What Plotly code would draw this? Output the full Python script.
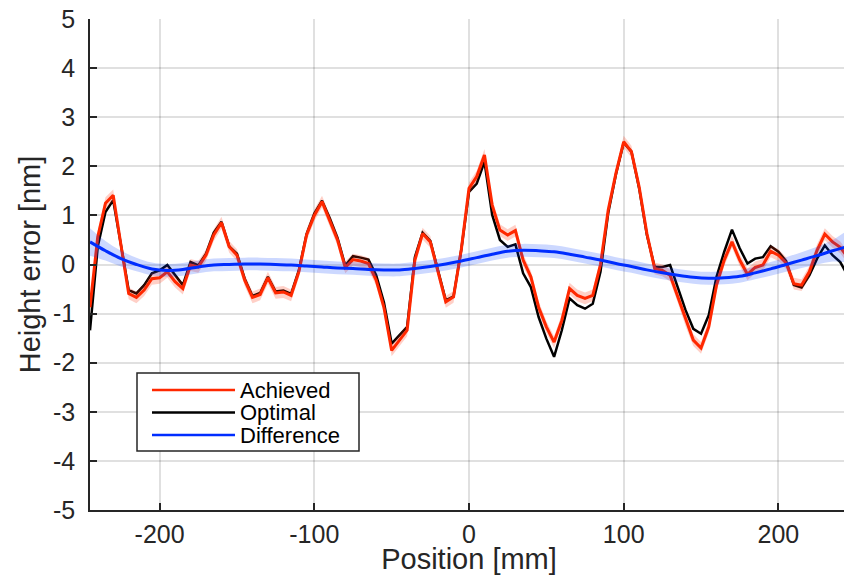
import numpy as np
import plotly.graph_objects as go

# ---- data ----
positions = list(range(-245, 250, 5))
achieved = [-0.87, 0.56, 1.25, 1.41, 0.40, -0.59, -0.67, -0.52, -0.29, -0.27,
            -0.15, -0.35, -0.49, -0.01, -0.05, 0.19, 0.60, 0.85, 0.36, 0.19,
            -0.32, -0.67, -0.61, -0.27, -0.58, -0.56, -0.63, -0.15, 0.60, 1.00,
            1.28, 0.90, 0.50, -0.06, 0.10, 0.07, 0.02, -0.32, -0.87, -1.75,
            -1.54, -1.34, 0.09, 0.63, 0.46, -0.15, -0.76, -0.66, 0.30, 1.55,
            1.79, 2.23, 1.21, 0.70, 0.60, 0.69, 0.09, -0.25, -0.87, -1.27,
            -1.58, -1.14, -0.49, -0.63, -0.69, -0.63, 0.00, 1.11, 1.86, 2.50,
            2.30, 1.58, 0.63, -0.08, -0.12, -0.22, -0.66, -1.14, -1.54, -1.70,
            -1.27, -0.42, 0.09, 0.46, 0.09, -0.20, -0.06, -0.01, 0.27, 0.19,
            0.03, -0.39, -0.42, -0.15, 0.29, 0.62, 0.46, 0.35, 0.14]
optimal = [-1.34, 0.36, 1.07, 1.31, 0.40, -0.52, -0.59, -0.42, -0.18, -0.12,
           -0.01, -0.22, -0.42, 0.05, -0.02, 0.22, 0.65, 0.87, 0.37, 0.22,
           -0.29, -0.64, -0.58, -0.25, -0.55, -0.53, -0.60, -0.12, 0.62, 1.04,
           1.30, 0.94, 0.54, -0.02, 0.17, 0.14, 0.10, -0.22, -0.77, -1.61,
           -1.44, -1.27, 0.15, 0.65, 0.48, -0.12, -0.73, -0.65, 0.30, 1.48,
           1.65, 2.09, 1.01, 0.50, 0.36, 0.41, -0.18, -0.46, -1.07, -1.51,
           -1.88, -1.34, -0.69, -0.83, -0.90, -0.80, -0.15, 1.05, 1.84, 2.48,
           2.30, 1.55, 0.60, -0.05, -0.05, -0.01, -0.46, -0.93, -1.31, -1.41,
           -1.03, -0.25, 0.26, 0.71, 0.33, 0.02, 0.12, 0.15, 0.37, 0.26,
           0.07, -0.42, -0.47, -0.22, 0.12, 0.39, 0.19, 0.05, -0.24]
achieved_unc = 0.12

diff_positions = list(range(-245, 250, 10))
difference = [0.46, 0.28, 0.12, 0.00, -0.09, -0.12, -0.10, -0.05, -0.01, 0.00,
              0.01, 0.01, 0.00, -0.01, -0.03, -0.05, -0.07, -0.08, -0.10, -0.11,
              -0.11, -0.08, -0.04, 0.01, 0.07, 0.14, 0.21, 0.27, 0.29, 0.28,
              0.26, 0.21, 0.15, 0.09, 0.02, -0.04, -0.11, -0.17, -0.22, -0.26,
              -0.28, -0.27, -0.24, -0.17, -0.09, 0.00, 0.09, 0.18, 0.28, 0.37]
difference_unc = [0.28, 0.20, 0.16, 0.14, 0.13, 0.13, 0.13, 0.13, 0.13, 0.13,
                  0.13, 0.13, 0.13, 0.13, 0.13, 0.13, 0.13, 0.13, 0.13, 0.13,
                  0.13, 0.13, 0.13, 0.13, 0.13, 0.13, 0.13, 0.13, 0.13, 0.13,
                  0.13, 0.13, 0.13, 0.13, 0.13, 0.13, 0.13, 0.13, 0.13, 0.13,
                  0.13, 0.13, 0.13, 0.13, 0.14, 0.15, 0.16, 0.18, 0.22, 0.29]

series_names = ["Achieved", "Optimal", "Difference"]

x_ticks = [-200, -100, 0, 100, 200]
x_tick_labels = ["-200", "-100", "0", "100", "200"]
y_ticks = [-5, -4, -3, -2, -1, 0, 1, 2, 3, 4, 5]
y_tick_labels = ["-5", "-4", "-3", "-2", "-1", "0", "1", "2", "3", "4", "5"]

FONT = "Liberation Sans, Arial, Helvetica, sans-serif"
RED = "rgb(255,40,0)"
BLUE = "rgb(0,45,255)"
DARK = "#262626"

# page body has an 8px margin; lay out the figure to compensate
OFF = 8
W, H = 852 - OFF, 575 - OFF
ML, MR, MT, MB = 90 - OFF, 4, 19 - OFF, 65
PW, PH = W - ML - MR, H - MT - MB


def px_to_paper(sx, sy):
    """screen pixel -> paper coordinates"""
    fx, fy = sx - OFF, sy - OFF
    return (fx - ML) / PW, (H - MB - fy) / PH


def band(xs, ys, unc):
    xs = np.asarray(xs, float)
    ys = np.asarray(ys, float)
    u = np.broadcast_to(np.asarray(unc, float), ys.shape)
    return (np.concatenate([xs, xs[::-1]]),
            np.concatenate([ys + u, (ys - u)[::-1]]))


fig = go.Figure()

fig.add_trace(go.Scatter(x=positions, y=optimal, mode="lines",
                         name=series_names[1], showlegend=False,
                         line=dict(color="black", width=2.5)))

bx, by = band(positions, achieved, achieved_unc)
fig.add_trace(go.Scatter(x=bx, y=by, fill="toself", mode="lines",
                         line=dict(width=0), fillcolor="rgba(255,40,0,0.22)",
                         showlegend=False, hoverinfo="skip"))
fig.add_trace(go.Scatter(x=positions, y=achieved, mode="lines",
                         name=series_names[0], showlegend=False,
                         line=dict(color=RED, width=3)))

dx, dy = band(diff_positions, difference, difference_unc)
fig.add_trace(go.Scatter(x=dx, y=dy, fill="toself", mode="lines",
                         line=dict(width=0, shape="spline"),
                         fillcolor="rgba(0,60,255,0.2)",
                         showlegend=False, hoverinfo="skip"))
fig.add_trace(go.Scatter(x=diff_positions, y=difference, mode="lines",
                         name=series_names[2], showlegend=False,
                         line=dict(color=BLUE, width=3, shape="spline")))

axis_common = dict(showgrid=True, gridcolor="rgba(0,0,0,0.12)", gridwidth=1.5,
                   zeroline=False, showline=True, linecolor=DARK,
                   linewidth=1.5, ticks="inside", ticklen=7, tickwidth=1.5,
                   tickcolor=DARK, mirror=False, automargin=False,
                   ticklabeloverflow="allow",
                   tickfont=dict(family=FONT, size=25, color=DARK))

fig.update_xaxes(range=[-245, 245], tickvals=x_ticks, ticktext=x_tick_labels,
                 ticklabelstandoff=1,
                 title=dict(text="Position [mm]", standoff=0,
                            font=dict(family=FONT, size=29, color=DARK)),
                 **axis_common)
fig.update_yaxes(range=[-5, 5], tickvals=y_ticks, ticktext=y_tick_labels,
                 ticklabelstandoff=8,
                 title=dict(text="Height error [nm]", standoff=4,
                            font=dict(family=FONT, size=29, color=DARK)),
                 **axis_common)

# custom legend (box, line samples, labels)
x0, y1 = px_to_paper(137, 373)
x1, y0 = px_to_paper(359, 451)
shapes = [dict(type="rect", xref="paper", yref="paper", x0=x0, x1=x1,
               y0=y0, y1=y1, line=dict(color=DARK, width=1.5),
               fillcolor="white", layer="above")]
annotations = []
legend_colors = [RED, "black", BLUE]
for i, (nm, col) in enumerate(zip(series_names, legend_colors)):
    py = 390 + i * 22.5
    lx0, ly = px_to_paper(152, py)
    lx1, _ = px_to_paper(235, py)
    tx, _ = px_to_paper(239, py)
    shapes.append(dict(type="line", xref="paper", yref="paper",
                       x0=lx0, x1=lx1, y0=ly, y1=ly,
                       line=dict(color=col, width=2.5), layer="above"))
    annotations.append(dict(xref="paper", yref="paper", x=tx, y=ly,
                            text=nm, showarrow=False, xanchor="left",
                            yanchor="middle", borderpad=0,
                            font=dict(family=FONT, size=22, color="black")))

fig.update_layout(
    width=W, height=H,
    margin=dict(l=ML, r=MR, t=MT, b=MB),
    paper_bgcolor="white", plot_bgcolor="white",
    font=dict(family=FONT, color=DARK),
    showlegend=False,
    shapes=shapes, annotations=annotations,
)

fig.write_html("out.html")
